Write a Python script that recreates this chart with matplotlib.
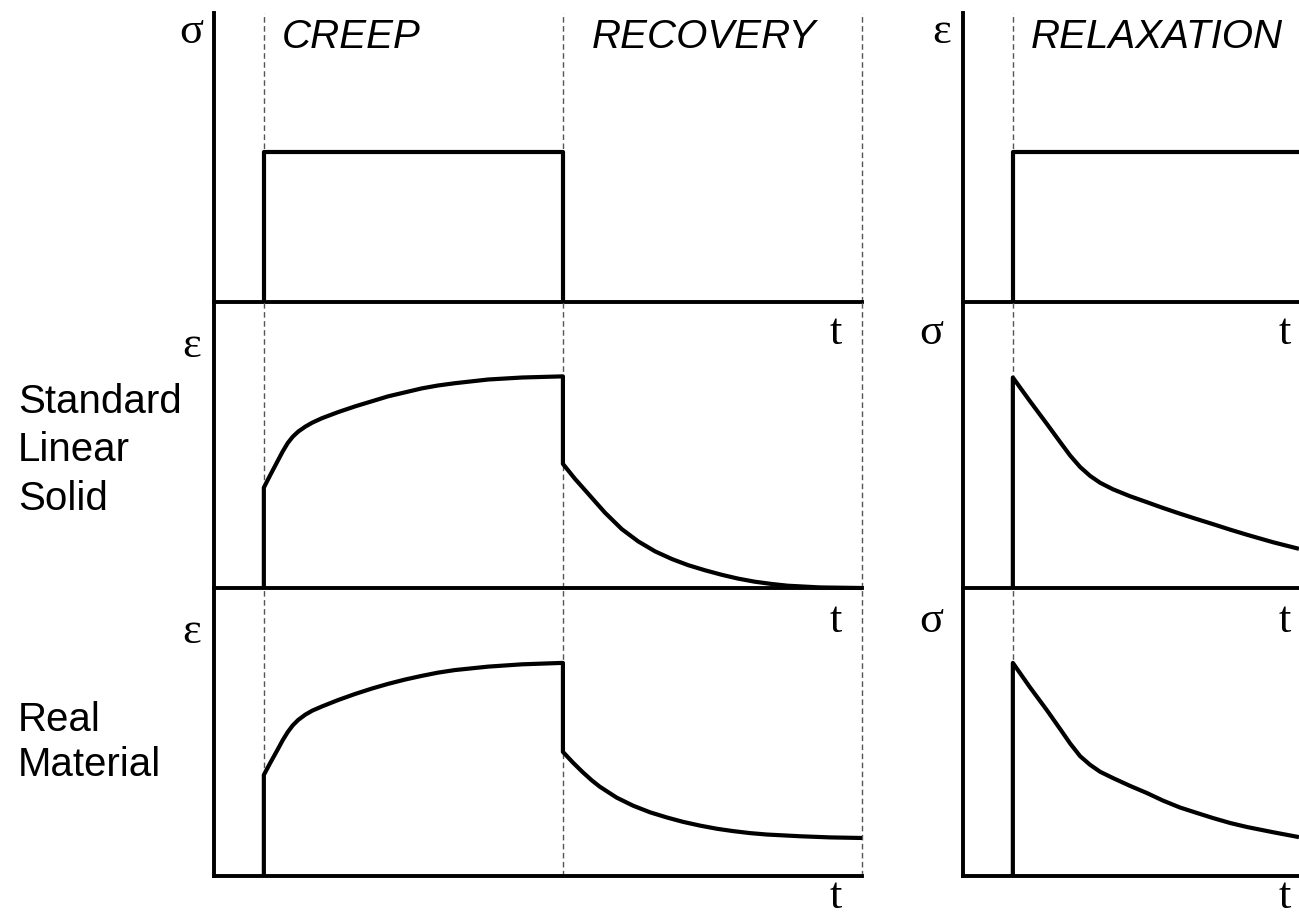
"""
Creep / recovery / relaxation sketch: standard linear solid vs real material.

Output:
- out.png
"""

import matplotlib
matplotlib.use("Agg")
import matplotlib.pyplot as plt


W_PX, H_PX = 1299, 918

# time markers (arbitrary units)
T_LOAD = 1.0
T_UNLOAD = 7.0
T_END = 13.0

STEP_LEVEL = 0.52

# creep branch
creep_t = [1.0, 1.12, 1.28, 1.38, 1.48, 1.58, 1.69, 1.83, 1.97, 2.17, 2.49, 2.83,
           3.17, 3.49, 3.83, 4.17, 4.49, 4.83, 5.50, 6.18, 7.0]
sls_creep = [0.351, 0.392, 0.445, 0.478, 0.507, 0.529, 0.547, 0.564, 0.578, 0.594, 0.615, 0.635,
             0.653, 0.670, 0.684, 0.698, 0.708, 0.716, 0.729, 0.736, 0.740]
real_creep = [0.351, 0.390, 0.440, 0.472, 0.500, 0.523, 0.542, 0.560, 0.574, 0.589, 0.611, 0.632,
              0.651, 0.667, 0.682, 0.695, 0.706, 0.715, 0.727, 0.735, 0.740]

# recovery branch
sls_rec_t = [7.0, 7.24, 7.50, 7.84, 8.18, 8.51, 8.85, 9.19, 9.51, 9.85, 10.19, 10.51,
             10.85, 11.19, 11.51, 12.16, 13.0]
sls_rec = [0.434, 0.382, 0.331, 0.264, 0.206, 0.163, 0.128, 0.101, 0.080, 0.062, 0.046, 0.033,
           0.022, 0.014, 0.008, 0.002, 0.0]
real_rec_t = [7.0, 7.20, 7.40, 7.58, 7.74, 8.08, 8.41, 8.75, 9.09, 9.41, 9.75, 10.09,
              10.41, 10.75, 11.09, 11.76, 12.36, 13.0]
real_rec = [0.431, 0.394, 0.360, 0.332, 0.310, 0.272, 0.244, 0.221, 0.203, 0.188, 0.175, 0.164,
            0.156, 0.149, 0.144, 0.138, 0.134, 0.132]

# relaxation branch
relax_t = [1.0, 1.34, 1.69, 1.95, 2.15, 2.35, 2.55, 2.75, 3.01, 3.35, 3.69, 4.01,
           4.35, 4.69, 5.02, 5.36, 5.70, 6.22, 6.74]
sls_relax = [0.736, 0.654, 0.572, 0.510, 0.463, 0.423, 0.392, 0.368, 0.345, 0.321, 0.300, 0.280,
             0.260, 0.241, 0.223, 0.204, 0.186, 0.160, 0.137]
real_relax = [0.740, 0.656, 0.574, 0.510, 0.460, 0.416, 0.386, 0.362, 0.340, 0.313, 0.288, 0.262,
              0.238, 0.219, 0.201, 0.184, 0.170, 0.152, 0.135]

SANS = "Liberation Sans"
SERIF = "Liberation Serif"
LW = 3.0
SPINE_LW = 2.8


def fx(x):
    return x / W_PX


def fy(y):
    return 1 - y / H_PX


def make_axes(fig, x0, top, bottom):
    ax = fig.add_axes([fx(x0), fy(bottom), 648 / W_PX, (bottom - top) / H_PX])
    ax.set_xlim(0, T_END)
    ax.set_ylim(0, 1)
    for side in ("top", "right"):
        ax.spines[side].set_visible(False)
    for side in ("left", "bottom"):
        ax.spines[side].set_linewidth(SPINE_LW)
        ax.spines[side].set_color("black")
    ax.set_xticks([])
    ax.set_yticks([])
    ax.patch.set_alpha(0)
    return ax


def curve(ax, t, y):
    ax.plot(t, y, color="black", linewidth=LW, solid_joinstyle="round",
            solid_capstyle="butt", clip_on=False, zorder=3)


def guides(ax, times):
    for t in times:
        ax.axvline(t, color="#555555", linewidth=1.0, dashes=(4, 2.5), clip_on=False, zorder=1)


def main():
    fig = plt.figure(figsize=(W_PX / 100, H_PX / 100), dpi=100)

    rows = [(13, 302), (302, 588), (588, 876)]
    left = [make_axes(fig, 214, a, b) for a, b in rows]
    right = [make_axes(fig, 963, a, b) for a, b in rows]

    for ax in left:
        guides(ax, [T_LOAD, T_UNLOAD, T_END])
    for ax in right:
        guides(ax, [T_LOAD])

    # input steps
    curve(left[0], [T_LOAD, T_LOAD, T_UNLOAD, T_UNLOAD], [0, STEP_LEVEL, STEP_LEVEL, 0])
    curve(right[0], [T_LOAD, T_LOAD, T_END], [0, STEP_LEVEL, STEP_LEVEL])

    # creep + recovery
    curve(left[1], [T_LOAD] + creep_t + sls_rec_t, [0] + sls_creep + sls_rec)
    curve(left[2], [T_LOAD] + creep_t + real_rec_t, [0] + real_creep + real_rec)

    # relaxation
    curve(right[1], [T_LOAD] + relax_t, [0] + sls_relax)
    curve(right[2], [T_LOAD] + relax_t, [0] + real_relax)

    sans = dict(family=SANS, fontsize=29)
    serif = dict(family=SERIF, fontsize=32)

    fig.text(fx(282), fy(48), "CREEP", style="italic", va="baseline", **sans)
    fig.text(fx(592), fy(48), "RECOVERY", style="italic", va="baseline", **sans)
    fig.text(fx(1031), fy(48), "RELAXATION", style="italic", va="baseline", **sans)

    for word, yb in (("Standard", 413), ("Linear", 461), ("Solid", 510),
                     ("Real", 731), ("Material", 776)):
        fig.text(fx(18), fy(yb), word, ha="left", va="baseline", **sans)

    # axis symbols
    fig.text(fx(203), fy(43), "σ", ha="right", va="baseline", **serif)
    fig.text(fx(201), fy(357), "ε", ha="right", va="baseline", **serif)
    fig.text(fx(201), fy(643), "ε", ha="right", va="baseline", **serif)
    fig.text(fx(951), fy(43), "ε", ha="right", va="baseline", **serif)
    fig.text(fx(943), fy(344), "σ", ha="right", va="baseline", **serif)
    fig.text(fx(943), fy(632), "σ", ha="right", va="baseline", **serif)

    for x0 in (836, 1285):
        for yb in (344, 632):
            fig.text(fx(x0), fy(yb), "t", ha="center", va="baseline", **serif)
        fig.text(fx(x0), fy(917), "t", ha="center", va="bottom", **serif)

    fig.savefig("out.png", dpi=100)


if __name__ == "__main__":
    main()
